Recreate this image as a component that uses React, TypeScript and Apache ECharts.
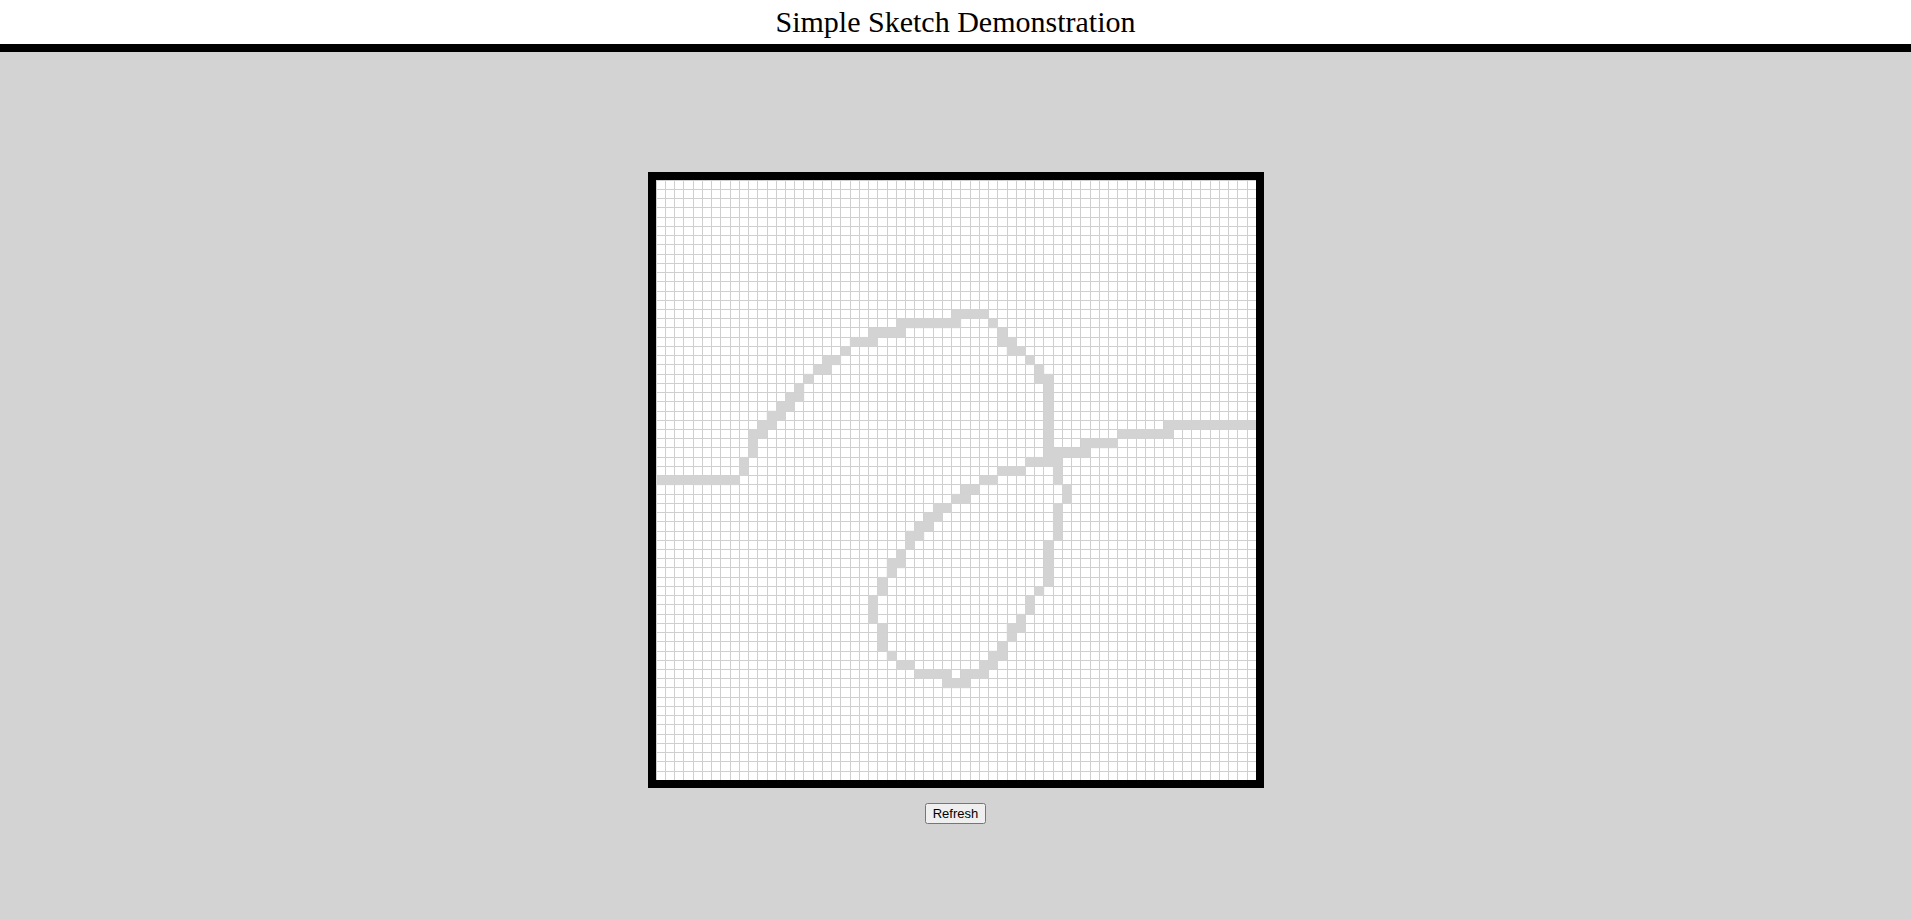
import { useEffect, useRef } from 'react';
import * as echarts from 'echarts';

const GRID_SIZE = 65;

// filled runs along a row: [row, fromCol, toCol]
const rowRuns: number[][] = [
  [32, 0, 8], [20, 17, 18], [19, 18, 19], [18, 20, 20], [17, 21, 23],
  [16, 23, 26], [15, 26, 32], [14, 32, 35], [15, 36, 36],
  [30, 40, 43], [29, 43, 46], [28, 46, 49], [27, 50, 55], [26, 55, 64],
  [31, 37, 39], [51, 36, 36], [52, 35, 36], [53, 33, 35], [53, 28, 31],
  [54, 31, 33], [52, 26, 27],
];

// filled runs along a column: [col, fromRow, toRow]
const colRuns: number[][] = [
  [9, 30, 31], [10, 27, 29], [11, 26, 27], [12, 25, 26], [13, 24, 25],
  [14, 23, 24], [15, 22, 23], [16, 21, 21],
  [37, 16, 17], [38, 17, 18], [39, 18, 18], [40, 19, 19], [41, 20, 21], [42, 21, 30],
  [43, 31, 32], [44, 33, 34], [43, 35, 38], [42, 39, 43], [41, 44, 44],
  [40, 45, 46], [39, 47, 48], [38, 48, 49], [37, 50, 51],
  [25, 51, 51], [24, 48, 50], [23, 45, 47], [24, 43, 44], [25, 41, 42],
  [26, 40, 41], [27, 38, 39], [28, 37, 38], [29, 36, 37], [30, 35, 36],
  [31, 35, 35], [32, 34, 34], [33, 33, 34], [34, 33, 33], [35, 32, 32], [36, 32, 32],
];

const cells: number[][] = [];
rowRuns.forEach(([r, a, b]) => { for (let c = a; c <= b; c++) cells.push([c, r]); });
colRuns.forEach(([c, a, b]) => { for (let r = a; r <= b; r++) cells.push([c, r]); });

const Sketch: React.FC = () => {
  const chartRef = useRef<HTMLDivElement | null>(null);

  useEffect(() => {
    if (!chartRef.current) return;
    const chart = echarts.init(chartRef.current, undefined, { renderer: 'svg' });
    const axisBase = {
      type: 'value' as const,
      min: 0,
      max: GRID_SIZE,
      interval: 1,
      axisLabel: { show: false },
      axisTick: { show: false },
      axisLine: { show: false },
      splitLine: { show: true, lineStyle: { color: '#cfcfcf', width: 1 } },
    };
    chart.setOption({
      animation: false,
      backgroundColor: '#ffffff',
      grid: { left: 0, right: 0, top: 0, bottom: 0 },
      xAxis: axisBase,
      yAxis: { ...axisBase, inverse: true },
      series: [
        {
          type: 'custom',
          data: cells,
          silent: true,
          renderItem: (_params: any, api: any) => {
            const p = api.coord([api.value(0), api.value(1)]);
            const s = api.size([1, 1]);
            return {
              type: 'rect',
              shape: { x: p[0], y: p[1], width: s[0] + 0.5, height: s[1] + 0.5 },
              style: { fill: '#d3d3d3' },
            };
          },
        },
      ],
    });
    return () => {
      chart.dispose();
    };
  }, []);

  return <div ref={chartRef} style={{ width: 600, height: 600 }} />;
};

export default function App() {
  return (
    <div style={{ position: 'fixed', inset: 0, background: '#d3d3d3', fontFamily: '"Liberation Serif", serif' }}>
      <div style={{ height: 44, background: '#fff', textAlign: 'center', fontSize: 30, lineHeight: '44px' }}>
        Simple Sketch Demonstration
      </div>
      <div style={{ height: 8, background: '#000' }} />
      <div style={{ position: 'absolute', left: 648, top: 172, border: '8px solid #000', width: 600, height: 600 }}>
        <Sketch />
      </div>
      <div style={{ position: 'absolute', left: 0, right: 0, top: 803, textAlign: 'center' }}>
        <button style={{ fontSize: 13, fontFamily: 'Arial, "Liberation Sans", sans-serif' }}>Refresh</button>
      </div>
    </div>
  );
}
